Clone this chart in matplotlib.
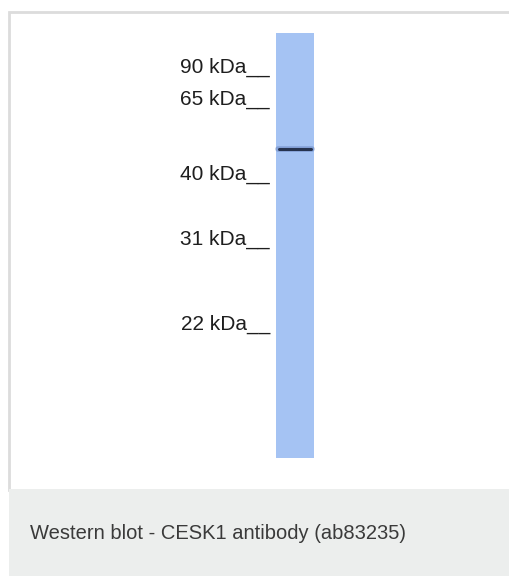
import matplotlib.pyplot as plt
from matplotlib.patches import Rectangle

# marker ladder: label and baseline position of the label (pixels from top)
marker_labels = ["90 kDa", "65 kDa", "40 kDa", "31 kDa", "22 kDa"]
marker_y = [73, 105, 180, 245, 330]

# lane extent (pixels) and detected band
lane_x = [276, 314]
lane_y = [33, 458]
band_y = 149

caption = "Western blot - CESK1 antibody (ab83235)"

fig = plt.figure(figsize=(5.1, 5.76), dpi=100)
ax = fig.add_axes([0, 0, 1, 1])
ax.set_xlim(0, 510)
ax.set_ylim(576, 0)
ax.axis("off")

# frame of the panel and caption strip
ax.add_patch(Rectangle((9.5, 11.5), 520, 478, facecolor="white",
                       edgecolor="#dcdcdc", linewidth=2))
ax.add_patch(Rectangle((9, 489), 520, 90, facecolor="#eceeed",
                       edgecolor="none"))

# lane
ax.add_patch(Rectangle((lane_x[0], lane_y[0]), lane_x[1] - lane_x[0],
                       lane_y[1] - lane_y[0], facecolor="#a5c3f3",
                       edgecolor="none"))

# band
ax.plot([lane_x[0] + 2, lane_x[1] - 2], [band_y, band_y], color="#6a86c0",
        linewidth=4, solid_capstyle="round", alpha=0.55)
ax.plot([lane_x[0] + 3, lane_x[1] - 3], [band_y, band_y], color="#26334f",
        linewidth=2.2, solid_capstyle="round")

# marker labels
for lab, y in zip(marker_labels, marker_y):
    ax.text(270, y, lab + "__", ha="right", va="baseline",
            fontsize=15, family="Liberation Sans", color="#1e1e1e")

ax.text(30, 539, caption, ha="left", va="baseline", fontsize=14.5,
        family="Liberation Sans", color="#3a3a3a")

fig.savefig("out.png", dpi=100)
